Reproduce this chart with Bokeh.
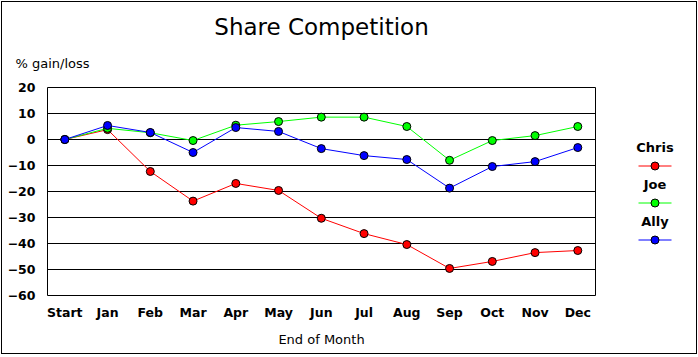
from bokeh.plotting import figure
from bokeh.models import Range1d, FixedTicker, Title
from bokeh.layouts import row
from bokeh.core.properties import value
from bokeh.embed import file_html
from bokeh.resources import INLINE

months = ["Start", "Jan", "Feb", "Mar", "Apr", "May", "Jun",
          "Jul", "Aug", "Sep", "Oct", "Nov", "Dec"]
chris = [0, 3.8, -12.3, -23.7, -16.9, -19.6, -30.3, -36.2, -40.4, -49.6, -46.9, -43.5, -42.7]
joe = [0, 4.3, 2.6, -0.4, 5.5, 6.9, 8.6, 8.6, 5.0, -8.0, -0.4, 1.5, 5.0]
ally = [0, 5.4, 2.7, -5.0, 4.6, 3.1, -3.5, -6.2, -7.7, -18.7, -10.4, -8.5, -3.1]
y_ticks = [-60, -50, -40, -30, -20, -10, 0, 10, 20]

names = ["Chris", "Joe", "Ally"]
colors = ["#ff0000", "#00ff00", "#0000ff"]
series = [chris, joe, ally]

FONT = "DejaVu Sans"

# ---------------- main chart ----------------
p = figure(width=610, height=355,
           x_range=Range1d(-0.405, 12.414), y_range=Range1d(-60, 20),
           output_backend="svg", toolbar_location=None,
           min_border_left=47, min_border_right=15,
           min_border_top=87, min_border_bottom=60)
p.background_fill_color = "white"
p.border_fill_alpha = 0
p.outline_line_color = "black"
p.outline_line_alpha = 1
p.outline_line_width = 1

p.add_layout(Title(text="% gain/loss", align="left", offset=-32, standoff=34,
                   text_font=FONT, text_font_style="normal", text_font_size="13px",
                   text_color="black"), "above")
p.title.text = "Share Competition"
p.title.align = "center"
p.title.text_font = FONT
p.title.text_font_style = "normal"
p.title.text_font_size = "23px"
p.title.text_color = "black"
p.title.standoff = -7

xs = list(range(len(months)))

p.xaxis.ticker = FixedTicker(ticks=xs)
p.xaxis.major_label_overrides = {i: m for i, m in enumerate(months)}
p.yaxis.ticker = FixedTicker(ticks=y_ticks)
for ax in (p.xaxis, p.yaxis):
    ax.major_tick_out = 0
    ax.major_tick_in = 0
    ax.minor_tick_out = 0
    ax.minor_tick_in = 0
    ax.axis_line_color = None
    ax.major_label_text_font = FONT
    ax.major_label_text_font_style = "bold"
    ax.major_label_text_font_size = "12.5px"
    ax.major_label_text_color = "black"
p.xaxis.major_label_standoff = 9
p.yaxis.major_label_standoff = 12
p.xaxis.axis_label = "End of Month"
p.xaxis.axis_label_text_font = FONT
p.xaxis.axis_label_text_font_style = "normal"
p.xaxis.axis_label_text_font_size = "13px"
p.xaxis.axis_label_text_color = "black"
p.xaxis.axis_label_standoff = 9

p.xgrid.visible = False
p.ygrid.grid_line_color = "black"
p.ygrid.grid_line_alpha = 1
p.ygrid.grid_line_width = 1

for vals, col in zip(series, colors):
    p.line(xs, vals, line_color=col, line_width=1)
    p.scatter(xs, vals, size=8, marker="circle", fill_color=col,
              line_color="black", line_width=1)

# ---------------- legend panel ----------------
# (its frame is aligned with the main frame: rows are legend entries, 37 px apart)
leg = figure(width=88, height=355, title=None,
             x_range=Range1d(-2.697, 2.636), y_range=Range1d(4.0, -1.622),
             output_backend="svg", toolbar_location=None, min_border=0)
leg.axis.visible = False
leg.grid.visible = False
leg.outline_line_color = None
leg.background_fill_alpha = 0
leg.border_fill_alpha = 0

rows = list(range(len(names)))
leg.text(x=[0] * len(names), y=rows, text=names, text_font=value(FONT),
         text_font_style="bold", text_font_size="13px", text_align="center",
         text_baseline="middle", text_color="black")
for k, col in zip(rows, colors):
    leg.line([-1, 1], [k + 0.5, k + 0.5], line_color=col, line_width=1)
    leg.scatter([0], [k + 0.5], size=8, marker="circle", fill_color=col,
                line_color="black", line_width=1)

lay = row(p, leg, spacing=0,
          styles={"box-shadow": "inset 0 0 0 1px white, inset 0 0 0 2px black",
                  "background": "white"})

open("out.html", "w").write(file_html(lay, INLINE))
